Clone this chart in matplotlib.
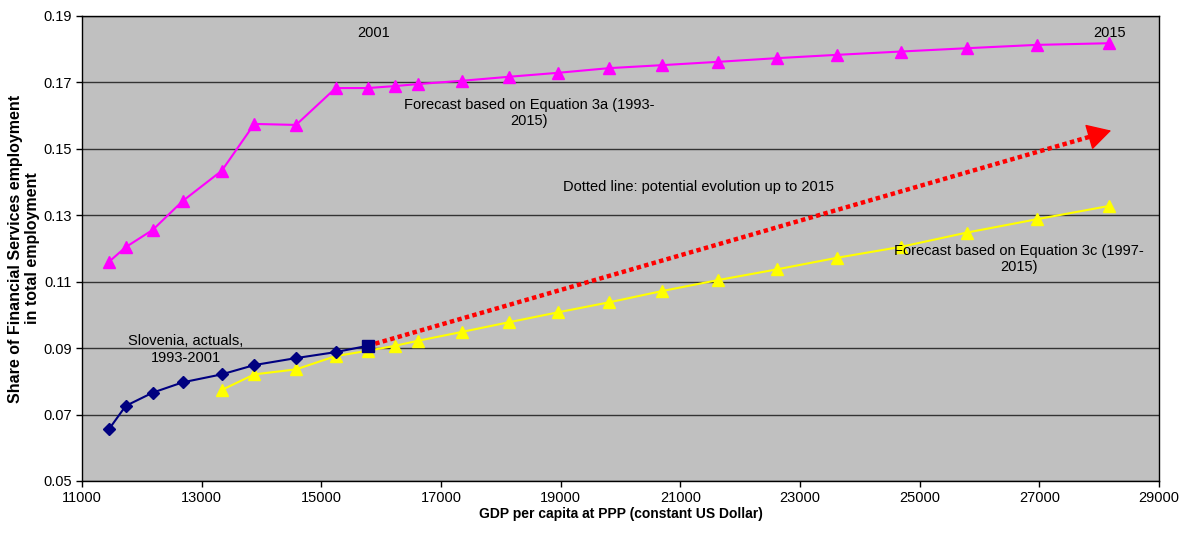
import matplotlib.pyplot as plt
from matplotlib.ticker import FormatStrFormatter

plt.rcParams['font.family'] = ['Liberation Sans', 'DejaVu Sans']

# Slovenia actuals 1993-2001
gdp_actual = [11451, 11730, 12182, 12683, 13335, 13880, 14577, 15240, 15775]
share_actual = [0.0656, 0.0726, 0.0766, 0.0797, 0.0821, 0.0849, 0.0870, 0.0888, 0.0907]

# Forecast based on equation 3a (1993-2015)
gdp_3a = [11451, 11730, 12182, 12683, 13335, 13880, 14577, 15240, 15775,
          16231, 16611, 17356, 18137, 18961, 19813, 20699, 21635, 22611,
          23619, 24689, 25792, 26957, 28165]
share_3a = [0.1160, 0.1204, 0.1256, 0.1343, 0.1434, 0.1575, 0.1572, 0.1683, 0.1683,
            0.1689, 0.1695, 0.1705, 0.1717, 0.1729, 0.1743, 0.1752, 0.1762, 0.1773,
            0.1783, 0.1793, 0.1803, 0.1813, 0.1818]

# Forecast based on equation 3c (1997-2015)
gdp_3c = [13335, 13880, 14577, 15240, 15775, 16231, 16611, 17356, 18137, 18961,
          19813, 20699, 21635, 22611, 23619, 24689, 25792, 26957, 28165]
share_3c = [0.0774, 0.0821, 0.0836, 0.0876, 0.0892, 0.0907, 0.0922, 0.0949, 0.0978, 0.1008,
            0.1038, 0.1072, 0.1105, 0.1137, 0.1172, 0.1205, 0.1248, 0.1288, 0.1328]

# potential evolution (dotted arrow)
arrow_x = [15775, 28200]
arrow_y = [0.0907, 0.1555]

x_ticks = list(range(11000, 29001, 2000))
y_ticks = [0.05, 0.07, 0.09, 0.11, 0.13, 0.15, 0.17, 0.19]

fig = plt.figure(figsize=(11.87, 5.40), dpi=100)
ax = fig.add_axes([0.0691, 0.1093, 0.9073, 0.8611])
ax.set_facecolor('#C0C0C0')

ax.set_xlim(11000, 29000)
ax.set_ylim(0.05, 0.19)
ax.set_xticks(x_ticks)
ax.set_yticks(y_ticks)
ax.yaxis.set_major_formatter(FormatStrFormatter('%.2f'))
ax.tick_params(direction='out', length=4, width=1, labelsize=10.5, colors='black')
ax.grid(axis='y', color='#333333', linewidth=1)
ax.set_axisbelow(True)
for s in ax.spines.values():
    s.set_color('black')
    s.set_linewidth(1)

ax.plot(gdp_3a, share_3a, color='#FF00FF', lw=1.5, marker='^', ms=8, zorder=3)
ax.plot(gdp_3c, share_3c, color='#FFFF00', lw=1.5, marker='^', ms=8, zorder=3)

# red dotted line, then a solid head at the end
frac = 0.975
x_back = arrow_x[0] + frac * (arrow_x[1] - arrow_x[0])
y_back = arrow_y[0] + frac * (arrow_y[1] - arrow_y[0])
ax.plot([arrow_x[0], x_back], [arrow_y[0], y_back], color='#FF0000', lw=3.2,
        linestyle=(0, (1, 0.75)), dash_capstyle='butt', zorder=4)
ax.annotate('', xy=(arrow_x[1], arrow_y[1]), xytext=(x_back, y_back),
            arrowprops=dict(arrowstyle='-|>,head_length=0.9,head_width=0.5', color='#FF0000',
                            lw=1, mutation_scale=17, shrinkA=0, shrinkB=0), zorder=4)

ax.plot(gdp_actual, share_actual, color='#000080', lw=1.5, marker='D', ms=6.5, zorder=5)
ax.plot(gdp_actual[-1], share_actual[-1], color='#000080', marker='s', ms=8, zorder=6)

fs = 10.5
ax.text(15880, 0.1849, '2001', ha='center', va='center', fontsize=fs)
ax.text(28182, 0.1849, '2015', ha='center', va='center', fontsize=fs)
ax.text(18471, 0.1608, 'Forecast based on Equation 3a (1993-\n2015)', ha='center', va='center',
        fontsize=fs, multialignment='center')
ax.text(21296, 0.1385, 'Dotted line: potential evolution up to 2015', ha='center', va='center', fontsize=fs)
ax.text(26661, 0.1168, 'Forecast based on Equation 3c (1997-\n2015)', ha='center', va='center',
        fontsize=fs, multialignment='center', zorder=7)
ax.text(12738, 0.0896, 'Slovenia, actuals,\n1993-2001', ha='center', va='center',
        fontsize=fs, multialignment='center')

ax.set_xlabel('GDP per capita at PPP (constant US Dollar)', fontsize=10, fontweight='bold', labelpad=1)
ax.set_ylabel('Share of Financial Services employment\nin total employment', fontsize=11.5,
              fontweight='bold', labelpad=2, linespacing=1.15)

fig.savefig('out.png', dpi=100)
